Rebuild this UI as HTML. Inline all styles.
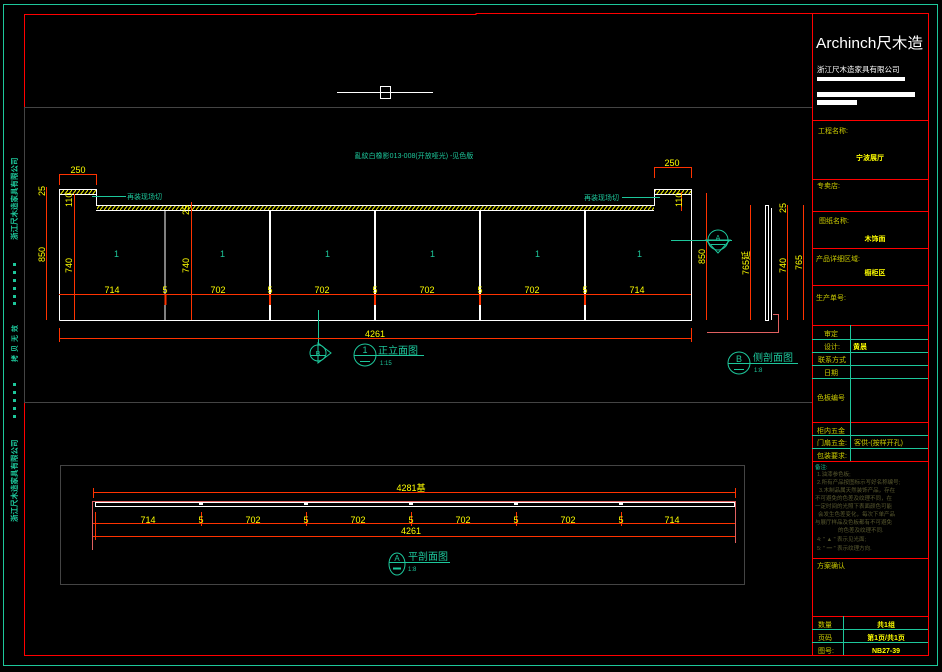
<!DOCTYPE html>
<html><head><meta charset="utf-8"><style>
html,body{margin:0;padding:0;background:#000;width:942px;height:672px;overflow:hidden}
svg{display:block}
text{font-family:"Liberation Sans","Noto Sans CJK SC",sans-serif}
</style></head><body>
<svg width="942" height="672" viewBox="0 0 942 672" xmlns="http://www.w3.org/2000/svg">
<defs>
<pattern id="h" width="4" height="5" patternUnits="userSpaceOnUse"><rect width="4" height="5" fill="#000"/><path d="M0 5 L4 0" stroke="#ff0" stroke-width="1"/></pattern>
</defs>
<rect x="3.5" y="4.5" width="934" height="661" fill="none" stroke="#1dc79b" stroke-width="1"/>
<polyline points="24.5,107 24.5,14.5 476,14.5 476,13.5 812.5,13.5" fill="none" stroke="#f00" stroke-width="1"/>
<line x1="24.5" y1="107" x2="24.5" y2="402" stroke="#444"/>
<polyline points="24.5,402 24.5,655.5 812.5,655.5" fill="none" stroke="#f00"/>
<line x1="24" y1="107.5" x2="812" y2="107.5" stroke="#444"/>
<line x1="24" y1="402.5" x2="812" y2="402.5" stroke="#444"/>
<line x1="337" y1="92.5" x2="433" y2="92.5" stroke="#fff"/>
<rect x="380.5" y="86.5" width="10" height="12" fill="none" stroke="#fff"/>
<g fill="#1dc79b" font-size="7.5" font-weight="bold">
<text transform="translate(17,240) rotate(-90)">浙江尺木造家具有限公司</text>
<text transform="translate(17,522) rotate(-90)">浙江尺木造家具有限公司</text>
<text transform="translate(17,362) rotate(-90)" font-size="7" letter-spacing="3">拷贝无效</text>
</g>
<g fill="#1dc79b"><rect x="13" y="263" width="3" height="3"/><rect x="13" y="271" width="3" height="3"/><rect x="13" y="279" width="3" height="3"/><rect x="13" y="287" width="3" height="3"/><rect x="13" y="295" width="3" height="3"/><rect x="13" y="302" width="3" height="3"/>
<rect x="13" y="383" width="3" height="3"/><rect x="13" y="391" width="3" height="3"/><rect x="13" y="399" width="3" height="3"/><rect x="13" y="407" width="3" height="3"/><rect x="13" y="415" width="3" height="3"/></g>

<text x="414" y="158" fill="#1dc79b" font-size="7" text-anchor="middle">亂紋白橡影013-008(开放哑光) -见色版</text>
<g stroke="#fff" stroke-width="1" fill="none">
<polyline points="59.5,320.5 59.5,189.5 96.5,189.5 96.5,205.5 654.5,205.5 654.5,189.5 691.5,189.5 691.5,320.5 59.5,320.5"/>
<line x1="59" y1="194.5" x2="96" y2="194.5"/><line x1="96" y1="210.5" x2="654" y2="210.5"/><line x1="654" y1="194.5" x2="691" y2="194.5"/>
</g>
<rect x="60" y="190" width="36" height="4" fill="url(#h)"/>
<rect x="97" y="206" width="557" height="4" fill="url(#h)"/>
<rect x="655" y="190" width="36" height="4" fill="url(#h)"/>
<g stroke="#fff" stroke-width="2">
<line x1="165" y1="211" x2="165" y2="320" stroke-width="1"/><line x1="270" y1="211" x2="270" y2="320"/><line x1="375" y1="211" x2="375" y2="320"/><line x1="480" y1="211" x2="480" y2="320"/><line x1="585" y1="211" x2="585" y2="320"/>
</g>
<g fill="#1dc79b" font-size="9"><text x="114" y="257">1</text><text x="220" y="257">1</text><text x="325" y="257">1</text><text x="430" y="257">1</text><text x="535" y="257">1</text><text x="637" y="257">1</text></g>
<g stroke="#1dc79b"><line x1="92" y1="196.5" x2="126" y2="196.5"/><line x1="622" y1="197.5" x2="660" y2="197.5"/><line x1="671" y1="240.5" x2="732" y2="240.5"/><line x1="318.5" y1="310" x2="318.5" y2="345"/></g>
<g fill="#1dc79b" font-size="7"><text x="127" y="199">再装现场切</text><text x="584" y="200">再装现场切</text></g>
<g stroke="#ff3300" stroke-width="1" fill="none">
<line x1="59" y1="294.5" x2="691" y2="294.5"/>
<line x1="59" y1="338.5" x2="691" y2="338.5"/>
<line x1="59.5" y1="328" x2="59.5" y2="342"/><line x1="691.5" y1="328" x2="691.5" y2="342"/>
<line x1="46.5" y1="187" x2="46.5" y2="320"/><line x1="74.5" y1="194" x2="74.5" y2="320"/><line x1="191.5" y1="202" x2="191.5" y2="320"/>
<line x1="59" y1="174.5" x2="96" y2="174.5"/><line x1="59.5" y1="174" x2="59.5" y2="185"/><line x1="96.5" y1="174" x2="96.5" y2="185"/>
<line x1="654" y1="167.5" x2="691" y2="167.5"/><line x1="654.5" y1="167" x2="654.5" y2="178"/><line x1="691.5" y1="167" x2="691.5" y2="178"/>
<line x1="681.5" y1="192" x2="681.5" y2="211"/>
<line x1="706.5" y1="193" x2="706.5" y2="320"/>
<line x1="750.5" y1="205" x2="750.5" y2="320"/><line x1="787.5" y1="205" x2="787.5" y2="320"/><line x1="803.5" y1="205" x2="803.5" y2="320"/>
<line x1="165.5" y1="294" x2="165.5" y2="305" stroke-width="2"/><line x1="270" y1="294" x2="270" y2="305" stroke-width="2"/><line x1="375" y1="294" x2="375" y2="305" stroke-width="2"/><line x1="480" y1="294" x2="480" y2="305" stroke-width="2"/><line x1="585" y1="294" x2="585" y2="305" stroke-width="2"/>
</g>
<polyline points="707,332.5 778.5,332.5 778.5,314.5 773,314.5" fill="none" stroke="#e06060"/>
<g stroke="#fff" fill="none"><rect x="765.5" y="205.5" width="3" height="115"/><line x1="771.5" y1="208" x2="771.5" y2="320"/></g>
<g fill="#ff0" font-size="9">
<text x="78" y="173" text-anchor="middle">250</text><text x="672" y="166" text-anchor="middle">250</text>
<text x="112" y="293" text-anchor="middle">714</text><text x="218" y="293" text-anchor="middle">702</text><text x="322" y="293" text-anchor="middle">702</text><text x="427" y="293" text-anchor="middle">702</text><text x="532" y="293" text-anchor="middle">702</text><text x="637" y="293" text-anchor="middle">714</text>
<text x="165" y="293" text-anchor="middle">5</text><text x="270" y="293" text-anchor="middle">5</text><text x="375" y="293" text-anchor="middle">5</text><text x="480" y="293" text-anchor="middle">5</text><text x="585" y="293" text-anchor="middle">5</text>
<text x="375" y="337" text-anchor="middle">4261</text>
<text transform="translate(45,262) rotate(-90)">850</text>
<text transform="translate(45,196) rotate(-90)">25</text>
<text transform="translate(72,207) rotate(-90)">110</text>
<text transform="translate(72,273) rotate(-90)">740</text>
<text transform="translate(189,273) rotate(-90)">740</text>
<text transform="translate(189,215) rotate(-90)">25</text>
<text transform="translate(682,207) rotate(-90)">110</text>
<text transform="translate(705,264) rotate(-90)">850</text>
<text transform="translate(749,275) rotate(-90)">765延</text>
<text transform="translate(786,273) rotate(-90)">740</text>
<text transform="translate(802,270) rotate(-90)">765</text>
<text transform="translate(786,213) rotate(-90)">25</text>
</g>
<g stroke="#1dc79b" fill="none">
<circle cx="718" cy="240" r="10"/><line x1="711" y1="244.5" x2="725" y2="244.5"/><polygon points="706,240 730,240 718,253" />
<circle cx="318" cy="353" r="8"/><line x1="311" y1="355.5" x2="325" y2="355.5"/><polygon points="318,343 331,353 318,363"/>
<circle cx="365" cy="355" r="11"/><line x1="354" y1="355.5" x2="424" y2="355.5"/><line x1="360" y1="361.5" x2="370" y2="361.5"/>
<circle cx="739" cy="363" r="11"/><line x1="728" y1="363.5" x2="798" y2="363.5"/><line x1="734" y1="369.5" x2="744" y2="369.5"/>
</g>
<g fill="#1dc79b"><text x="318" y="356" font-size="7" text-anchor="middle">B</text><text x="718" y="240" font-size="7" text-anchor="middle">A</text>
<text x="365" y="353" font-size="9" text-anchor="middle">1</text><text x="378" y="354" font-size="10">正立面图</text><text x="380" y="365" font-size="6">1:15</text>
<text x="739" y="362" font-size="9" text-anchor="middle">B</text><text x="753" y="361" font-size="10">侧剖面图</text><text x="754" y="372" font-size="6">1:8</text></g>

<rect x="60.5" y="465.5" width="684" height="119" fill="none" stroke="#444"/>
<g stroke="#ff3300" fill="none">
<line x1="93" y1="492.5" x2="735" y2="492.5"/><line x1="93.5" y1="488" x2="93.5" y2="498"/><line x1="735.5" y1="488" x2="735.5" y2="498"/>
<line x1="93" y1="523.5" x2="735" y2="523.5"/><line x1="93" y1="536.5" x2="735" y2="536.5"/>
<line x1="92.5" y1="501" x2="92.5" y2="550" stroke="#e06060"/><line x1="735.5" y1="501" x2="735.5" y2="543" stroke="#e06060"/>
<line x1="95.5" y1="512" x2="95.5" y2="540"/>
<line x1="201.5" y1="512" x2="201.5" y2="526"/><line x1="306.5" y1="512" x2="306.5" y2="526"/><line x1="411.5" y1="512" x2="411.5" y2="526"/><line x1="516.5" y1="512" x2="516.5" y2="526"/><line x1="621.5" y1="512" x2="621.5" y2="526"/>
</g>
<line x1="92" y1="501.5" x2="736" y2="501.5" stroke="#e06060"/>
<rect x="95.5" y="502.5" width="639" height="4" fill="none" stroke="#fff"/>
<g fill="#fff"><rect x="199" y="502" width="4" height="3"/><rect x="304" y="502" width="4" height="3"/><rect x="409" y="502" width="4" height="3"/><rect x="514" y="502" width="4" height="3"/><rect x="619" y="502" width="4" height="3"/></g>
<g fill="#ff0" font-size="9" text-anchor="middle">
<text x="411" y="491">4281基</text><text x="411" y="534">4261</text>
<text x="148" y="523">714</text><text x="253" y="523">702</text><text x="358" y="523">702</text><text x="463" y="523">702</text><text x="568" y="523">702</text><text x="672" y="523">714</text>
<text x="201" y="523">5</text><text x="306" y="523">5</text><text x="411" y="523">5</text><text x="516" y="523">5</text><text x="621" y="523">5</text>
</g>
<g stroke="#1dc79b" fill="none"><ellipse cx="397" cy="564" rx="8" ry="11"/><line x1="389" y1="562.5" x2="450" y2="562.5"/><line x1="393" y1="568.5" x2="401" y2="568.5" stroke-width="2"/></g>
<g fill="#1dc79b"><text x="397" y="561" font-size="8" text-anchor="middle">A</text><text x="408" y="560" font-size="10">平剖面图</text><text x="408" y="571" font-size="6">1:8</text></g>

<rect x="812.5" y="13.5" width="116" height="642" fill="none" stroke="#f00"/>
<text x="816" y="48" fill="#fff" font-size="15" textLength="107" lengthAdjust="spacingAndGlyphs">Archinch尺木造</text>
<text x="817" y="72" fill="#fff" font-size="7.5">浙江尺木造家具有限公司</text>
<rect x="817" y="77" width="88" height="4" fill="#fff"/><rect x="817" y="92" width="98" height="5" fill="#fff"/><rect x="817" y="100" width="40" height="5" fill="#fff"/>
<g stroke="#f00"><line x1="812" y1="120.5" x2="929" y2="120.5"/><line x1="812" y1="179.5" x2="929" y2="179.5"/><line x1="812" y1="211.5" x2="929" y2="211.5"/><line x1="812" y1="248.5" x2="929" y2="248.5"/><line x1="812" y1="285.5" x2="929" y2="285.5"/><line x1="812" y1="325.5" x2="929" y2="325.5"/><line x1="812" y1="422.5" x2="929" y2="422.5"/><line x1="812" y1="461.5" x2="929" y2="461.5"/><line x1="812" y1="558.5" x2="929" y2="558.5"/><line x1="812" y1="616.5" x2="929" y2="616.5"/></g>
<g stroke="#1dc79b"><line x1="850.5" y1="325" x2="850.5" y2="461"/><line x1="812" y1="339.5" x2="928" y2="339.5"/><line x1="812" y1="352.5" x2="928" y2="352.5"/><line x1="812" y1="365.5" x2="928" y2="365.5"/><line x1="812" y1="378.5" x2="928" y2="378.5"/><line x1="812" y1="435.5" x2="928" y2="435.5"/><line x1="812" y1="448.5" x2="928" y2="448.5"/><line x1="843.5" y1="616" x2="843.5" y2="655"/><line x1="812" y1="629.5" x2="928" y2="629.5"/><line x1="812" y1="642.5" x2="928" y2="642.5"/></g>
<g fill="#cc0" font-size="7">
<text x="818" y="133">工程名称:</text><text x="817" y="188">专卖店:</text><text x="819" y="223">图纸名称:</text><text x="816" y="261">产品详细区域:</text><text x="816" y="300">生产单号:</text>
<text x="824" y="336">审定</text><text x="824" y="349">设计:</text><text x="818" y="362">联系方式</text><text x="824" y="375">日期</text><text x="817" y="400">色板编号</text>
<text x="817" y="433">柜内五金</text><text x="817" y="445">门扇五金:</text><text x="817" y="458">包装要求:</text><text x="854" y="445">客供-(按样开孔)</text>
<text x="817" y="568">方案确认</text><text x="818" y="627">数量</text><text x="818" y="640">页码</text><text x="818" y="653">图号:</text>
</g>
<g fill="#ff0" font-size="7" font-weight="bold" text-anchor="middle">
<text x="870" y="160">宁波展厅</text><text x="875" y="241">木饰面</text><text x="875" y="275">橱柜区</text><text x="860" y="349">黄晨</text>
<text x="886" y="627">共1组</text><text x="886" y="640">第1页/共1页</text><text x="886" y="653">NB27-39</text>
</g>
<g fill="#5a5a30" font-size="5.5">
<text x="815" y="469" fill="#1dc79b">备注:</text>
<text x="817" y="476">1.油漆参色板;</text>
<text x="817" y="484">2.所有产品按图标示写好名称编号;</text>
<text x="819" y="492">3.木制品属天然装饰产品，存在</text>
<text x="815" y="500">不可避免的色差及纹理不同，在</text>
<text x="815" y="508">一定时间的光照下表面颜色可能</text>
<text x="818" y="516">会发生色差变化，每次下单产品</text>
<text x="815" y="524">与展厅样品及色板都有不可避免</text>
<text x="838" y="532">的色差及纹理不同.</text>
<text x="817" y="541">4:    "  ▲ " 表示见光面;</text>
<text x="817" y="550">5:    " ━ " 表示纹理方向.</text>
</g>
</svg>
</body></html>
